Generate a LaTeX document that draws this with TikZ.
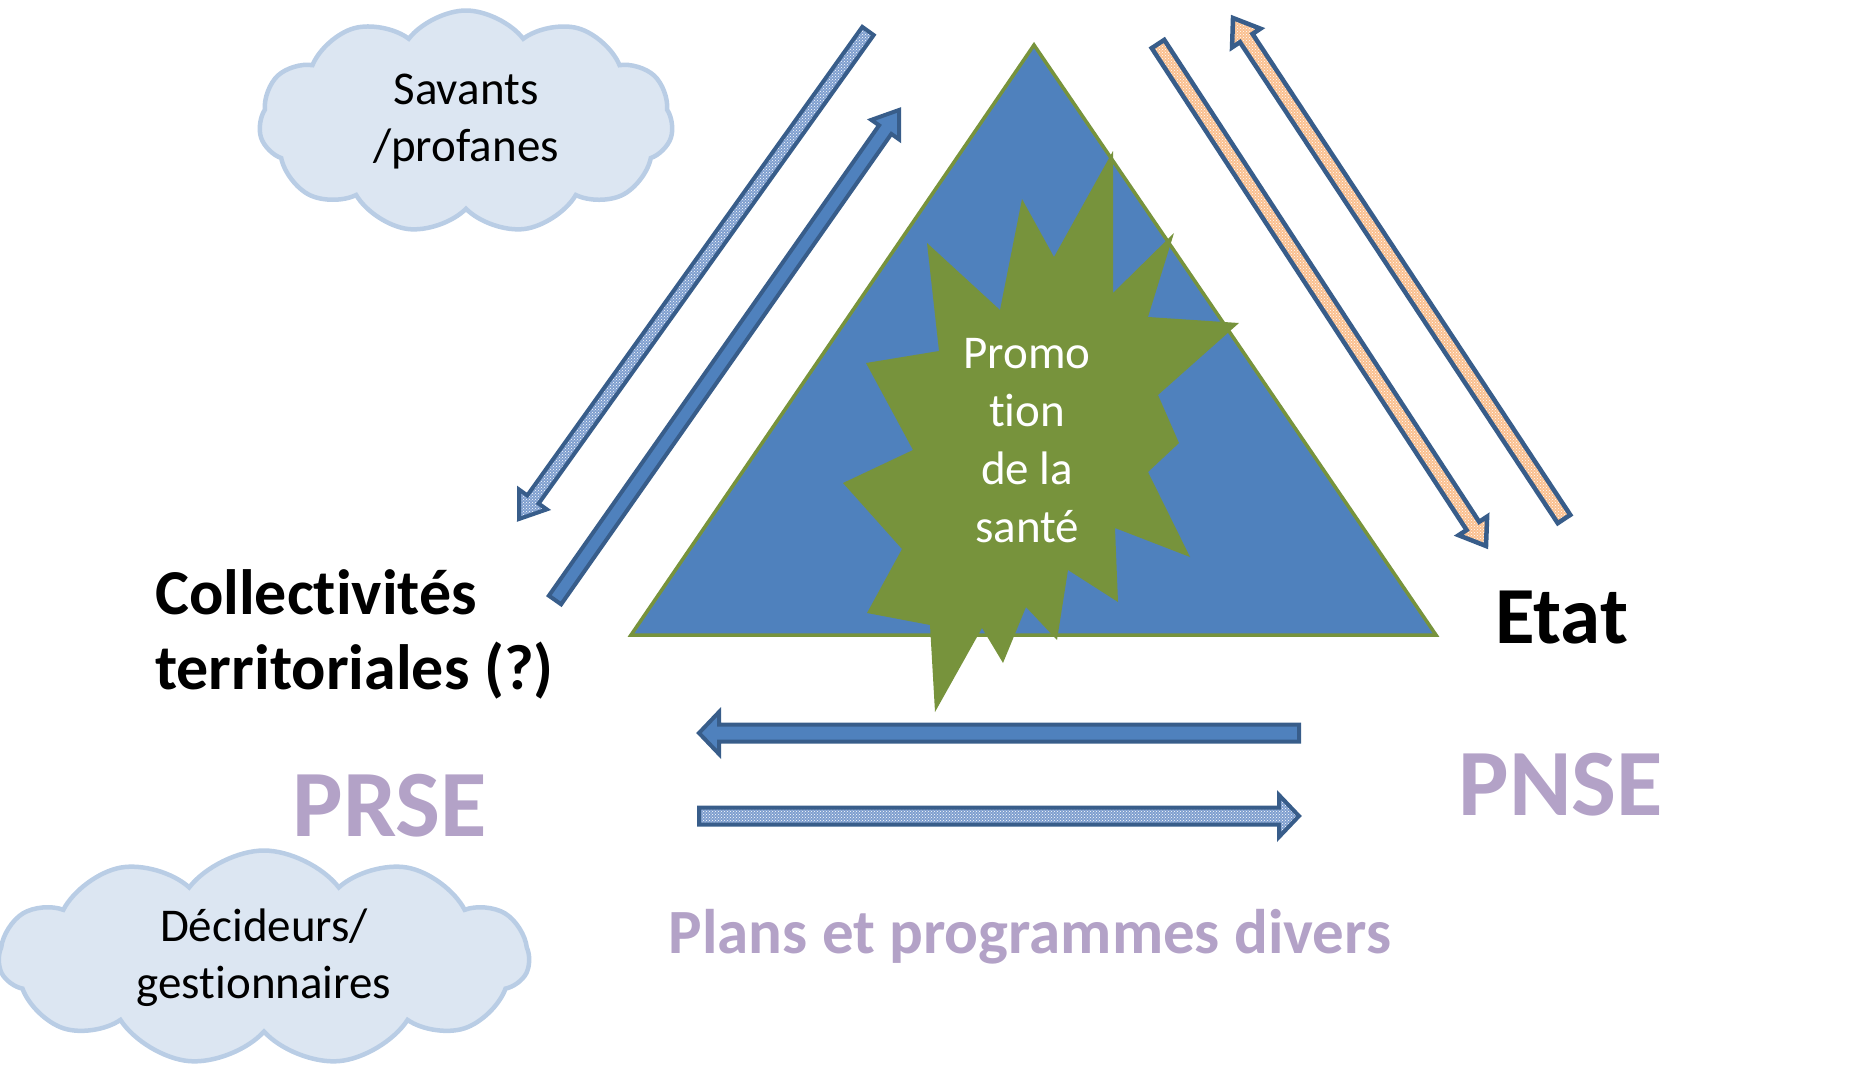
\documentclass[tikz,border=0pt]{standalone}
\usepackage{fontspec}
\setmainfont{Carlito}[RawFeature={-liga;-clig;-calt;-dlig}]
\usetikzlibrary{calc,shapes.symbols,patterns}

\definecolor{triblue}{HTML}{4F81BD}
\definecolor{stargreen}{HTML}{77933C}
\definecolor{arrowline}{HTML}{385D8A}
\definecolor{dotblue}{HTML}{7F9FCF}
\definecolor{orangefill}{HTML}{FAC090}
\definecolor{cloudfill}{HTML}{DCE6F2}
\definecolor{cloudline}{HTML}{B9CDE5}
\definecolor{lavender}{HTML}{B3A2C7}

\begin{document}
\begin{tikzpicture}[x=1pt,y=-1pt,
    cloudnode/.style={cloud, cloud puffs=11, cloud puff arc=105, cloud ignores aspect, draw=cloudline, fill=cloudfill, line width=4.5, align=center, inner sep=0, font=\fontsize{47}{57}\selectfont},
    actor/.style={inner sep=0, align=left, font=\bfseries\fontsize{64}{75}\selectfont},
    plan/.style={inner sep=0, text=lavender, font=\bfseries\fontsize{95}{110}\selectfont},
    block/.style n args={3}{to path={
        ($(\tikztotarget)!#3!(\tikztostart)$) coordinate (hb)
        ($(\tikztostart)!#1!90:(\tikztotarget)$)
        -- ($(hb)!#1!-90:(\tikztostart)$) -- ($(hb)!#2!-90:(\tikztostart)$)
        -- (\tikztotarget)
        -- ($(hb)!#2!90:(\tikztostart)$) -- ($(hb)!#1!90:(\tikztostart)$)
        -- ($(\tikztostart)!#1!-90:(\tikztotarget)$) -- cycle}},
    solidarrow/.style={draw=arrowline, line width=4, fill=triblue},
    dotarrow/.style={draw=arrowline, line width=4, preaction={fill=dotblue}, pattern=crosshatch dots, pattern color=white},
    orangearrow/.style={draw=arrowline, line width=4.5, preaction={fill=orangefill}, pattern=crosshatch dots, pattern color=white}]
    \useasboundingbox (0,0) rectangle (1868,1065);

    % triangle and star
    \filldraw[fill=triblue, draw=stargreen, line width=3.5] (1034,45) -- (1436,635) -- (631,635) -- cycle;
    \fill[stargreen] (1022,199) -- (1054,257) -- (1113,151) -- (1113,293) -- (1174,233) -- (1148,317)
        -- (1239,323) -- (1158,395) -- (1179,443) -- (1148,472) -- (1190,557) -- (1115,528)
        -- (1118,602) -- (1068,570) -- (1057,640) -- (1026,607) -- (1003,663) -- (982,628)
        -- (935,712) -- (930,625) -- (867,613) -- (902,549) -- (843,483) -- (913,450)
        -- (866,363) -- (939,351) -- (927,243) -- (1000,310) -- cycle;
    \node[inner sep=0, align=center, text=white, font=\fontsize{47}{58}\selectfont] (promo) at (1027,441) {Promo\\tion\\de la\\santé};

    \node[cloudnode, minimum width=414, minimum height=223] (savants) at (466,122) {Savants\\/profanes};
    \node[cloudnode, minimum width=530, minimum height=215] (decideurs) at (264,958) {Décideurs/\\gestionnaires};

    \node[actor, anchor=west] (collectivites) at (155,634) {Collectivités\\territoriales (?)};
    \node[inner sep=0, anchor=base west, font=\bfseries\fontsize{81}{95}\selectfont] (etat) at (1495,643) {Etat};
    \node[plan, anchor=base] (prse) at (390,836) {PRSE};
    \node[plan, anchor=base] (pnse) at (1561,815) {PNSE};
    \node[plan, anchor=base, font=\bfseries\fontsize{63}{75}\selectfont] (plans) at (1030,953) {Plans et programmes divers};

    \coordinate (atail) at (868,31);   \coordinate (atip) at (519,519);
    \coordinate (btail) at (555,600);  \coordinate (btip) at (899,110);
    \coordinate (ctail) at (1158,44);  \coordinate (ctip) at (1486,546);
    \coordinate (dtail) at (1564,519); \coordinate (dtip) at (1233,18);
    \coordinate (etail) at (1299,733); \coordinate (etip) at (699,733);
    \coordinate (ftail) at (699,816);  \coordinate (ftip) at (1299,816);

    \draw[dotarrow] (atail) to[block={7pt}{17pt}{24pt}] (atip);
    \draw[solidarrow] (btail) to[block={7.5pt}{17pt}{24pt}] (btip);
    \draw[orangearrow] (ctail) to[block={7.5pt}{17pt}{24pt}] (ctip);
    \draw[orangearrow] (dtail) to[block={7.5pt}{17pt}{24pt}] (dtip);
    \draw[solidarrow] (etail) to[block={8.5pt}{21pt}{20pt}] (etip);
    \draw[dotarrow] (ftail) to[block={8.5pt}{21pt}{20pt}] (ftip);
\end{tikzpicture}
\end{document}
